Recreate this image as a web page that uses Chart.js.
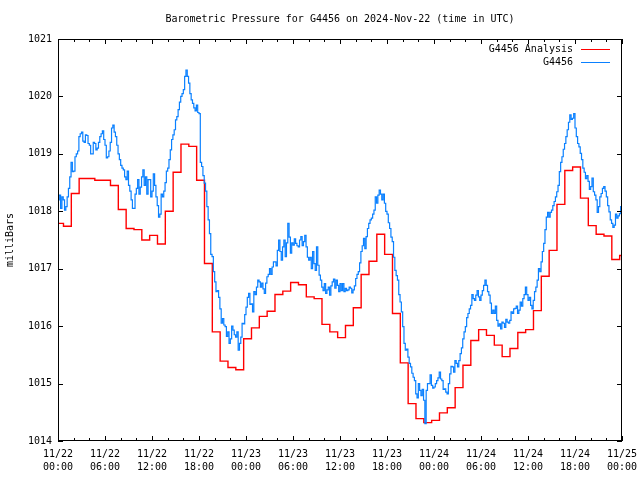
<!DOCTYPE html>
<html>
<head>
<meta charset="utf-8">
<title>Barometric Pressure G4456</title>
<script src="https://cdn.jsdelivr.net/npm/chart.js@4.4.0/dist/chart.umd.min.js"></script>
<style>
  html, body { margin: 0; padding: 0; background: #fff; }
  #grafico { display: block; }
</style>
</head>
<body>
<canvas id="grafico" width="640" height="480"></canvas>
<script>
// Datos (horas desde 11/22 00:00 UTC)
const tituloGrafico = 'Barometric Pressure for G4456 on 2024-Nov-22 (time in UTC)';
const etiquetaEjeY = 'milliBars';

const tickDias = ['11/22', '11/22', '11/22', '11/22', '11/23', '11/23', '11/23',
                  '11/23', '11/24', '11/24', '11/24', '11/24', '11/25'];
const tickHoras = ['00:00', '06:00', '12:00', '18:00', '00:00', '06:00', '12:00',
                   '18:00', '00:00', '06:00', '12:00', '18:00', '00:00'];

// Serie "G4456 Analysis": primer valor en la hora 0, luego un escalón cada hora (a las hh:42)
const analisisInicio = 0.7;
const analisisValores = [
  1017.79,
  1017.74, 1018.31, 1018.57, 1018.57, 1018.54, 1018.54, 1018.45, 1018.03, 1017.70, 1017.68,
  1017.50, 1017.58, 1017.43, 1018.00, 1018.68, 1019.17, 1019.13, 1018.54, 1017.09, 1015.90,
  1015.39, 1015.28, 1015.24, 1015.78, 1015.97, 1016.17, 1016.26, 1016.55, 1016.61, 1016.76,
  1016.72, 1016.51, 1016.48, 1016.03, 1015.90, 1015.80, 1016.01, 1016.32, 1016.90, 1017.13,
  1017.60, 1017.25, 1016.22, 1015.36, 1014.65, 1014.39, 1014.32, 1014.36, 1014.49, 1014.58,
  1014.93, 1015.32, 1015.75, 1015.94, 1015.84, 1015.67, 1015.47, 1015.61, 1015.89, 1015.94,
  1016.27, 1016.87, 1017.32, 1018.12, 1018.71, 1018.77, 1018.23, 1017.75, 1017.60, 1017.57,
  1017.16, 1017.23
];

// Serie "G4456": una lectura cada 10 minutos
const estacionPaso = 1 / 6;
const estacionValores = [
  1018.20, 1018.28, 1018.05, 1018.25, 1018.20, 1018.02, 1018.08, 1018.25, 1018.40, 1018.60,
  1018.85, 1018.69, 1018.70, 1018.95, 1019.00, 1019.05, 1019.30, 1019.35, 1019.38, 1019.22,
  1019.20, 1019.33, 1019.32, 1019.18, 1019.15, 1019.00, 1019.00, 1019.20, 1019.18, 1019.07,
  1019.10, 1019.20, 1019.30, 1019.35, 1019.40, 1019.25, 1019.15, 1018.93, 1018.95, 1019.05,
  1019.20, 1019.45, 1019.50, 1019.38, 1019.30, 1019.15, 1019.00, 1018.90, 1018.80, 1018.75,
  1018.72, 1018.60, 1018.55, 1018.70, 1018.45, 1018.35, 1018.20, 1018.05, 1018.05, 1018.30,
  1018.40, 1018.55, 1018.30, 1018.42, 1018.60, 1018.72, 1018.45, 1018.60, 1018.30, 1018.55,
  1018.55, 1018.25, 1018.35, 1018.65, 1018.45, 1018.25, 1018.10, 1017.90, 1017.95, 1018.30,
  1018.25, 1018.35, 1018.50, 1018.70, 1018.75, 1018.90, 1019.07, 1019.25, 1019.33, 1019.42,
  1019.59, 1019.65, 1019.77, 1019.90, 1020.00, 1020.05, 1020.12, 1020.35, 1020.46, 1020.35,
  1020.23, 1020.05, 1019.94, 1019.88, 1019.80, 1019.75, 1019.85, 1019.72, 1019.70, 1018.85,
  1018.78, 1018.62, 1018.49, 1018.35, 1018.08, 1017.85, 1017.61, 1017.25, 1017.21, 1016.95,
  1016.77, 1016.60, 1016.62, 1016.50, 1016.30, 1016.05, 1016.13, 1016.02, 1015.99, 1015.82,
  1015.90, 1015.70, 1015.78, 1016.00, 1015.93, 1015.85, 1015.81, 1015.90, 1015.58, 1015.70,
  1015.81, 1016.05, 1016.04, 1016.20, 1016.33, 1016.50, 1016.57, 1016.38, 1016.39, 1016.25,
  1016.60, 1016.55, 1016.68, 1016.80, 1016.77, 1016.68, 1016.75, 1016.65, 1016.57, 1016.75,
  1016.86, 1016.90, 1017.00, 1016.90, 1017.03, 1017.12, 1017.12, 1017.05, 1017.32, 1017.50,
  1017.30, 1017.15, 1017.38, 1017.50, 1017.21, 1017.45, 1017.79, 1017.55, 1017.27, 1017.45,
  1017.41, 1017.52, 1017.44, 1017.40, 1017.38, 1017.50, 1017.56, 1017.40, 1017.47, 1017.58,
  1017.38, 1017.20, 1017.15, 1017.20, 1017.00, 1017.30, 1017.09, 1016.97, 1017.38, 1017.06,
  1016.89, 1016.80, 1016.68, 1016.62, 1016.74, 1016.57, 1016.63, 1016.68, 1016.54, 1016.70,
  1016.77, 1016.82, 1016.66, 1016.80, 1016.71, 1016.60, 1016.74, 1016.62, 1016.74, 1016.60,
  1016.66, 1016.62, 1016.63, 1016.68, 1016.66, 1016.58, 1016.63, 1016.70, 1016.83, 1016.90,
  1016.95, 1017.10, 1017.30, 1017.40, 1017.53, 1017.35, 1017.56, 1017.70, 1017.79, 1017.85,
  1017.88, 1017.95, 1018.02, 1018.25, 1018.14, 1018.28, 1018.37, 1018.30, 1018.20, 1018.30,
  1018.14, 1018.00, 1017.95, 1017.80, 1017.70, 1017.55, 1017.47, 1017.20, 1016.97, 1016.88,
  1016.80, 1016.55, 1016.42, 1016.25, 1015.99, 1015.70, 1015.58, 1015.60, 1015.46, 1015.35,
  1015.29, 1015.18, 1015.11, 1015.05, 1014.82, 1014.75, 1015.00, 1014.88, 1014.79, 1014.90,
  1014.71, 1014.30, 1014.88, 1015.00, 1015.00, 1015.15, 1014.97, 1014.92, 1014.94, 1015.00,
  1015.05, 1015.10, 1015.20, 1015.08, 1015.05, 1014.90, 1014.91, 1014.85, 1014.82, 1015.00,
  1015.17, 1015.30, 1015.29, 1015.20, 1015.40, 1015.35, 1015.29, 1015.40, 1015.52, 1015.62,
  1015.78, 1015.90, 1015.99, 1016.15, 1016.22, 1016.30, 1016.36, 1016.55, 1016.48, 1016.45,
  1016.54, 1016.62, 1016.51, 1016.45, 1016.54, 1016.62, 1016.71, 1016.80, 1016.71, 1016.60,
  1016.54, 1016.40, 1016.22, 1016.28, 1016.22, 1016.35, 1016.10, 1016.00, 1016.04, 1015.95,
  1016.07, 1016.05, 1015.98, 1016.12, 1016.07, 1016.05, 1016.10, 1016.25, 1016.22, 1016.30,
  1016.31, 1016.35, 1016.22, 1016.28, 1016.42, 1016.35, 1016.48, 1016.55, 1016.68, 1016.55,
  1016.45, 1016.50, 1016.36, 1016.30, 1016.45, 1016.60, 1016.68, 1016.80, 1017.00, 1016.95,
  1017.12, 1017.30, 1017.44, 1017.68, 1017.90, 1017.98, 1017.90, 1017.98, 1018.02, 1018.10,
  1018.17, 1018.25, 1018.34, 1018.45, 1018.69, 1018.85, 1018.95, 1019.08, 1019.18, 1019.30,
  1019.42, 1019.55, 1019.68, 1019.60, 1019.62, 1019.70, 1019.45, 1019.30, 1019.18, 1019.12,
  1019.01, 1018.90, 1018.75, 1018.68, 1018.57, 1018.62, 1018.52, 1018.38, 1018.43, 1018.58,
  1018.34, 1018.28, 1018.20, 1017.98, 1018.08, 1018.25, 1018.31, 1018.40, 1018.43, 1018.35,
  1018.25, 1018.10, 1017.99, 1017.85, 1017.79, 1017.72, 1017.76, 1017.95, 1017.88, 1017.92,
  1017.96, 1018.08, 1018.05
];

const HORAS_TOTALES = 72;
const FUENTE = '"DejaVu Sans Mono", "Liberation Mono", monospace';

// Puntos {x, y} para la serie de análisis (escalones horarios)
const puntosAnalisis = analisisValores.map((v, i) => ({
  x: i === 0 ? 0 : analisisInicio + (i - 1),
  y: v
}));
puntosAnalisis.push({ x: HORAS_TOTALES, y: analisisValores[analisisValores.length - 1] });

const puntosEstacion = estacionValores.map((v, i) => ({ x: i * estacionPaso, y: v }));

// Marco y marcas de los ejes al estilo gnuplot (hacia dentro y en espejo)
const marcoPlugin = {
  id: 'marco',
  afterDatasetsDraw(chart) {
    const { ctx, chartArea: a, scales: { x, y } } = chart;
    ctx.save();
    ctx.strokeStyle = '#000';
    ctx.lineWidth = 1;
    ctx.beginPath();
    for (let h = 0; h <= HORAS_TOTALES; h += 2) {
      const px = Math.round(x.getPixelForValue(h)) + 0.5;
      const largo = h % 6 === 0 ? 5 : 3;
      ctx.moveTo(px, a.bottom);
      ctx.lineTo(px, a.bottom - largo);
      ctx.moveTo(px, a.top);
      ctx.lineTo(px, a.top + largo);
    }
    y.ticks.forEach(t => {
      const py = Math.round(y.getPixelForValue(t.value)) + 0.5;
      ctx.moveTo(a.left, py);
      ctx.lineTo(a.left + 5, py);
      ctx.moveTo(a.right, py);
      ctx.lineTo(a.right - 5, py);
    });
    ctx.stroke();
    ctx.strokeRect(a.left + 0.5, a.top + 0.5, a.right - a.left - 1, a.bottom - a.top - 1);
    ctx.restore();
  }
};

// Leyenda dentro del área del gráfico, arriba a la derecha
const leyendaPlugin = {
  id: 'leyendaGnuplot',
  afterDraw(chart) {
    const { ctx, chartArea: a } = chart;
    ctx.save();
    ctx.font = '10px ' + FUENTE;
    ctx.fillStyle = '#000';
    ctx.textAlign = 'right';
    ctx.textBaseline = 'middle';
    chart.data.datasets.forEach((ds, i) => {
      const yy = a.top + 10 + i * 13;
      ctx.fillText(ds.label, a.right - 49, yy);
      ctx.strokeStyle = ds.borderColor;
      ctx.lineWidth = 1;
      ctx.beginPath();
      ctx.moveTo(a.right - 41, yy + 0.5);
      ctx.lineTo(a.right - 12, yy + 0.5);
      ctx.stroke();
    });
    ctx.restore();
  }
};

Chart.defaults.font.family = FUENTE;
Chart.defaults.font.size = 10;
Chart.defaults.color = '#000';

new Chart(document.getElementById('grafico').getContext('2d'), {
  type: 'line',
  data: {
    datasets: [
      {
        label: 'G4456 Analysis',
        data: puntosAnalisis,
        borderColor: '#ff0000',
        borderWidth: 1.4,
        stepped: 'before',
        pointRadius: 0,
        order: 2
      },
      {
        label: 'G4456',
        data: puntosEstacion,
        borderColor: '#0a80ff',
        borderWidth: 1.2,
        stepped: 'before',
        pointRadius: 0,
        order: 1
      }
    ]
  },
  options: {
    responsive: false,
    animation: false,
    layout: { padding: { top: 0, right: 18, bottom: 0, left: 0 } },
    scales: {
      x: {
        type: 'linear',
        min: 0,
        max: HORAS_TOTALES,
        grid: { display: false, drawTicks: false },
        border: { display: false },
        ticks: {
          stepSize: 6,
          padding: 7,
          maxRotation: 0,
          autoSkip: false,
          font: { lineHeight: 1.3 },
          callback: (value, index) => [tickDias[index], tickHoras[index]]
        },
        afterFit: (escala) => {
          escala.height = 39;
          escala.paddingLeft = 0;
          escala.paddingRight = 0;
        }
      },
      y: {
        min: 1014,
        max: 1021,
        grid: { display: false, drawTicks: false },
        border: { display: false },
        ticks: { stepSize: 1, padding: 6, callback: (value) => String(value) },
        title: { display: true, text: etiquetaEjeY, padding: { top: 4, bottom: 0 } },
        afterFit: (escala) => { escala.width = 58; }
      }
    },
    plugins: {
      legend: { display: false },
      tooltip: { enabled: false },
      title: {
        display: true,
        text: tituloGrafico,
        fullSize: false,
        font: { size: 10, weight: 'normal', lineHeight: 1.2 },
        padding: { top: 13, bottom: 14 }
      }
    }
  },
  plugins: [marcoPlugin, leyendaPlugin]
});
</script>
</body>
</html>
